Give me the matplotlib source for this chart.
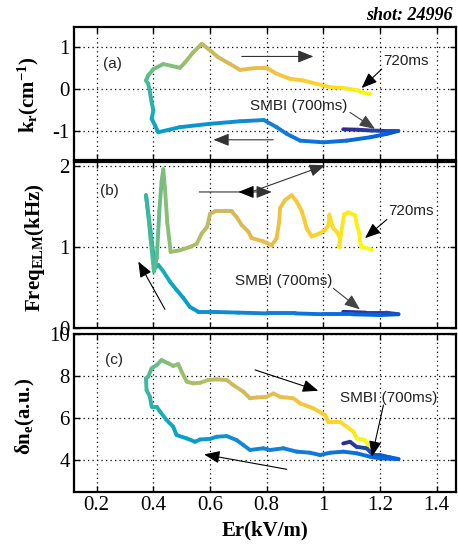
import numpy as np
import matplotlib
matplotlib.use('Agg')
import matplotlib.pyplot as plt
from matplotlib.collections import LineCollection
from matplotlib.colors import LinearSegmentedColormap

# ---------------- data ----------------
# panel (a): k_r vs Er, time in ms
er_a = [1.07, 1.12, 1.17, 1.22, 1.265, 1.224, 1.165, 1.082, 1.0, 0.918,
        0.871, 0.835, 0.79, 0.706, 0.6, 0.494, 0.417, 0.406, 0.394, 0.4,
        0.394, 0.388, 0.382, 0.374, 0.382, 0.4, 0.435, 0.494, 0.512, 0.541,
        0.571, 0.594, 0.629, 0.671, 0.706, 0.765, 0.8, 0.835, 0.882, 0.929,
        0.976, 1.024, 1.07, 1.117, 1.135, 1.165]
kr_a = [-0.96, -0.97, -0.99, -1.0, -1.0, -1.07, -1.15, -1.23, -1.27, -1.23,
        -1.07, -0.91, -0.74, -0.77, -0.83, -0.91, -1.03, -0.87, -0.71, -0.51,
        -0.32, -0.08, 0.12, 0.2, 0.32, 0.47, 0.59, 0.5, 0.63, 0.87,
        1.07, 0.95, 0.75, 0.59, 0.45, 0.5, 0.5, 0.36, 0.24, 0.2,
        0.12, 0.04, 0.02, -0.03, -0.08, -0.12]
t_a = [700.0, 700.4, 700.8, 701.4, 701.8, 702.2, 702.6, 703.2, 703.6, 704.0,
       704.4, 704.8, 705.4, 705.8, 706.2, 706.6, 707.2, 707.6, 708.0, 708.4,
       708.8, 709.4, 709.8, 710.2, 710.6, 711.2, 711.6, 712.0, 712.4, 712.8,
       713.4, 713.8, 714.2, 714.6, 715.2, 715.6, 716.0, 716.4, 716.8, 717.4,
       717.8, 718.2, 718.6, 719.2, 719.6, 720.0]

# panel (b): ELM frequency vs Er
er_b = [1.07, 1.15, 1.22, 1.265, 1.2, 1.1, 1.0, 0.9, 0.8, 0.7,
        0.6, 0.559, 0.529, 0.506, 0.482, 0.459, 0.435, 0.417, 0.406, 0.39,
        0.374, 0.382, 0.39, 0.402, 0.412, 0.421, 0.429, 0.435, 0.441, 0.449,
        0.461, 0.494, 0.529, 0.553, 0.571, 0.59, 0.6, 0.618, 0.676, 0.694,
        0.712, 0.735, 0.747, 0.788, 0.818, 0.835, 0.844, 0.847, 0.865, 0.888,
        0.906, 0.924, 0.935, 0.941, 0.959, 0.988, 1.006, 1.018, 1.021, 1.026,
        1.035, 1.047, 1.059, 1.056, 1.065, 1.073, 1.088, 1.112, 1.118, 1.127,
        1.129, 1.135, 1.171]
freq_b = [0.2, 0.19, 0.19, 0.17, 0.16, 0.17, 0.17, 0.18, 0.18, 0.19,
          0.2, 0.2, 0.26, 0.37, 0.47, 0.57, 0.70, 0.78, 0.74, 1.2,
          1.64, 1.40, 1.11, 0.70, 0.86, 1.44, 1.81, 1.96, 1.72, 1.31,
          0.94, 0.96, 1.0, 1.04, 1.17, 1.25, 1.41, 1.44, 1.44, 1.37,
          1.27, 1.19, 1.11, 1.07, 1.02, 1.11, 1.31, 1.48, 1.58, 1.64,
          1.56, 1.44, 1.31, 1.23, 1.13, 1.17, 1.21, 1.27, 1.40, 1.33,
          1.23, 1.19, 1.11, 1.0, 1.23, 1.40, 1.43, 1.39, 1.27, 1.17,
          1.07, 1.0, 0.97]
t_b = [700.0, 700.6, 701.2, 701.8, 702.4, 703.0, 703.6, 704.2, 704.8, 705.4,
       706.0, 706.2, 706.6, 707.0, 707.4, 707.8, 708.2, 708.4, 708.6, 709.0,
       709.4, 709.8, 710.0, 710.4, 710.8, 711.2, 711.4, 711.6, 711.8, 712.0,
       712.2, 712.6, 713.0, 713.2, 713.4, 713.6, 713.8, 714.0, 714.4, 714.6,
       714.8, 715.0, 715.2, 715.4, 715.6, 715.8, 716.0, 716.2, 716.4, 716.6,
       716.8, 717.0, 717.2, 717.3, 717.4, 717.6, 717.8, 718.0, 718.1, 718.2,
       718.3, 718.4, 718.6, 718.7, 718.8, 719.0, 719.1, 719.2, 719.4, 719.5,
       719.6, 719.8, 720.0]

# panel (c): density fluctuation vs Er
er_c = [1.07, 1.094, 1.117, 1.153, 1.176, 1.2, 1.235, 1.265, 1.2, 1.165,
        1.118, 1.071, 1.024, 0.988, 0.953, 0.906, 0.859, 0.812, 0.788, 0.741,
        0.718, 0.694, 0.659, 0.624, 0.6, 0.565, 0.547, 0.518, 0.482, 0.47,
        0.447, 0.424, 0.412, 0.394, 0.388, 0.376, 0.374, 0.382, 0.394, 0.412,
        0.429, 0.453, 0.47, 0.488, 0.5, 0.518, 0.541, 0.565, 0.594, 0.624,
        0.659, 0.682, 0.718, 0.741, 0.765, 0.8, 0.824, 0.847, 0.894, 0.918,
        0.965, 1.006, 1.018, 1.059, 1.082, 1.106, 1.118, 1.147, 1.159]
dn_c = [4.79, 4.87, 4.63, 4.56, 4.24, 4.24, 4.13, 4.05, 4.08, 4.16,
        4.32, 4.4, 4.35, 4.24, 4.35, 4.4, 4.56, 4.48, 4.56, 4.48,
        4.71, 4.95, 5.14, 5.11, 5.01, 4.98, 4.87, 5.03, 5.19, 5.59,
        5.9, 6.3, 6.54, 6.54, 7.01, 7.33, 7.89, 7.97, 8.37, 8.52,
        8.76, 8.6, 8.48, 8.57, 8.2, 7.73, 7.65, 7.68, 7.81, 7.84,
        7.81, 7.57, 7.25, 6.94, 6.98, 7.01, 7.17, 7.01, 6.94, 6.7,
        6.46, 6.14, 5.82, 5.82, 5.59, 5.35, 5.03, 4.95, 4.71]
t_c = [700.0, 700.4, 700.8, 701.2, 701.6, 702.0, 702.2, 702.4, 702.8, 703.2,
       703.6, 703.8, 704.0, 704.2, 704.4, 704.6, 704.8, 705.0, 705.2, 705.4,
       705.6, 705.8, 706.0, 706.2, 706.4, 706.6, 706.8, 707.0, 707.2, 707.6,
       708.0, 708.4, 708.6, 708.8, 709.2, 709.6, 710.0, 710.2, 710.6, 711.0,
       711.4, 711.8, 712.0, 712.2, 712.4, 712.8, 713.0, 713.2, 713.4, 713.6,
       714.0, 714.2, 714.4, 714.6, 714.8, 715.2, 715.4, 715.6, 716.0, 716.4,
       716.8, 717.4, 717.6, 718.0, 718.4, 718.8, 719.2, 719.6, 720.0]

x_ticks = [0.2, 0.4, 0.6, 0.8, 1.0, 1.2, 1.4]
x_ticklabels = ['0.2', '0.4', '0.6', '0.8', '1', '1.2', '1.4']
yticks_a = [-1, 0, 1]
yticks_b = [0, 1, 2]
yticks_c = [4, 6, 8, 10]

# ---------------- style ----------------
plt.rcParams['font.family'] = ['Liberation Serif', 'DejaVu Serif']
plt.rcParams['axes.unicode_minus'] = False
plt.rcParams['mathtext.fontset'] = 'custom'
plt.rcParams['mathtext.rm'] = 'Liberation Serif:bold'
plt.rcParams['mathtext.it'] = 'Liberation Serif:bold'
plt.rcParams['mathtext.bf'] = 'Liberation Serif:bold'

parula = LinearSegmentedColormap.from_list('parula', [
    (0.2081, 0.1663, 0.5292), (0.0117, 0.3875, 0.8820),
    (0.0779, 0.5040, 0.8384), (0.0228, 0.6535, 0.7768),
    (0.2586, 0.7317, 0.5954), (0.6098, 0.7473, 0.4337),
    (0.8824, 0.7274, 0.3217), (0.9880, 0.8066, 0.1794),
    (0.9763, 0.9831, 0.0538)])
norm = plt.Normalize(700, 720)

W, H = 458, 546
fig = plt.figure(figsize=(W / 100, H / 100), dpi=100)
L, R = 74, 456


def add_ax(top, bottom):
    return fig.add_axes([L / W, 1 - bottom / H, (R - L) / W, (bottom - top) / H])


ax_a = add_ax(27, 160)
ax_b = add_ax(162, 328)
ax_c = add_ax(334, 492)


def trace(ax, x, y, t):
    pts = np.column_stack([x, y])
    segs = np.stack([pts[:-1], pts[1:]], axis=1)
    tt = np.asarray(t)
    lc = LineCollection(segs, cmap=parula, norm=norm, linewidths=2.8,
                        capstyle='round', joinstyle='round', zorder=3)
    lc.set_array((tt[:-1] + tt[1:]) / 2)
    ax.add_collection(lc)


def style(ax, yticks, ylim, show_x):
    ax.set_xlim(0.12, 1.468)
    ax.set_ylim(*ylim)
    ax.set_xticks(x_ticks)
    ax.set_yticks(yticks)
    ax.grid(True, color='k', linestyle=(0, (1, 2.6)), linewidth=0.9)
    ax.tick_params(direction='in', length=4, width=1, top=True, right=True,
                   labelsize=15, pad=3)
    if show_x:
        ax.set_xticklabels(x_ticklabels)
    else:
        ax.set_xticklabels([])
    for s in ax.spines.values():
        s.set_linewidth(1.6)


def arrow(ax, tail, head, color='k', lw=0.8):
    ax.annotate('', xy=head, xytext=tail, annotation_clip=False,
                arrowprops=dict(arrowstyle='-|>,head_length=0.95,head_width=0.38',
                                color=color, lw=lw, shrinkA=0, shrinkB=0,
                                clip_on=False), zorder=5)


def note(ax, x, y, s):
    ax.text(x, y, s, family=['Liberation Sans', 'DejaVu Sans'], fontsize=11,
            color='#222222', ha='left', va='center', zorder=6)


trace(ax_a, er_a, kr_a, t_a)
trace(ax_b, er_b, freq_b, t_b)
trace(ax_c, er_c, dn_c, t_c)

style(ax_a, yticks_a, (-1.69, 1.47), False)
style(ax_b, yticks_b, (0, 2.05), False)
style(ax_c, yticks_c, (2.48, 10), True)

# panel (a) annotations
note(ax_a, 0.223, 0.6, '(a)')
arrow(ax_a, (0.712, 0.77), (0.965, 0.77), color='#333333')
arrow(ax_a, (0.823, -1.21), (0.612, -1.21), color='#333333')
note(ax_a, 1.211, 0.67, '720ms')
arrow(ax_a, (1.206, 0.47), (1.135, 0.02))
note(ax_a, 0.741, -0.40, 'SMBI (700ms)')
arrow(ax_a, (1.094, -0.56), (1.182, -0.95), color='#444444')

# panel (b) annotations
note(ax_b, 0.212, 1.69, '(b)')
arrow(ax_b, (0.562, 1.68), (0.818, 1.68), color='#333333')
arrow(ax_b, (0.75, 1.68), (0.70, 1.68))
arrow(ax_b, (0.753, 1.69), (1.006, 2.01), color='#333333')
arrow(ax_b, (0.441, 0.23), (0.347, 0.82))
note(ax_b, 1.228, 1.44, '720ms')
arrow(ax_b, (1.224, 1.34), (1.147, 1.11))
note(ax_b, 0.688, 0.58, 'SMBI (700ms)')
arrow(ax_b, (1.035, 0.49), (1.129, 0.23), color='#444444')

# panel (c) annotations
note(ax_c, 0.23, 8.76, '(c)')
arrow(ax_c, (0.759, 8.29), (0.982, 7.3))
arrow(ax_c, (0.871, 3.56), (0.579, 4.27))
note(ax_c, 1.059, 6.94, 'SMBI (700ms)')
arrow(ax_c, (1.212, 6.62), (1.171, 4.16))

# labels
lab = dict(fontsize=15, fontweight='bold', rotation=90, ha='center', va='center')
fig.text(28 / W, 1 - 95 / H, 'k$_\\mathrm{r}$(cm$^{\\mathrm{-1}}$)', **lab)
fig.text(35 / W, 1 - 248 / H, 'Freq$_{\\mathrm{ELM}}$(kHz)', **lab)
fig.text(25 / W, 1 - 416 / H, 'δn$_\\mathrm{e}$(a.u.)', **lab)
fig.text((L + R) / 2 / W, 1 - 530 / H, 'Er(kV/m)', fontsize=15,
         fontweight='bold', ha='center', va='center')
fig.text(453 / W, 1 - 15 / H, 'shot: 24996', fontsize=13, fontweight='bold',
         fontstyle='italic', ha='right', va='center')

fig.savefig('out.png', dpi=100)
